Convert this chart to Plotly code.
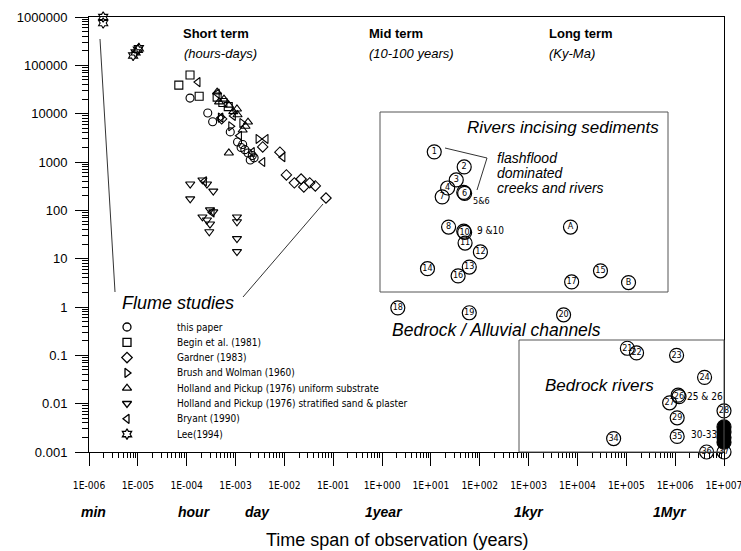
import plotly.graph_objects as go

# ---------------- data (years, rate) ----------------
lee_x = [1.95e-6, 1.95e-6, 8e-6, 9e-6, 1.0e-5, 1.05e-5]
lee_y = [1.0e6, 7.5e5, 1.6e5, 1.85e5, 2.1e5, 2.25e5]

paper_x = [1.17e-4, 2.7e-4, 3.4e-4, 7.8e-4, 1.1e-3, 1.4e-3, 1.55e-3, 1.8e-3, 2.2e-3, 2.4e-3, 2.0e-3, 1.3e-3]
paper_y = [21000, 10300, 6800, 4200, 2600, 2300, 1800, 1540, 1360, 1220, 1100, 2000]

begin_x = [6.9e-5, 1.17e-4, 1.8e-4, 4.2e-4, 7.1e-4, 5.5e-4]
begin_y = [39000, 63000, 23000, 22000, 14000, 17000]

gardner_x = [5.2e-4, 3.6e-3, 8.1e-3, 1.1e-2, 1.6e-2, 2.2e-2, 2.5e-2, 3.3e-2, 4.3e-2, 7.1e-2]
gardner_y = [7800, 2050, 1600, 540, 370, 445, 305, 370, 320, 180]

brush_x = [4.9e-4, 8.0e-4, 1.35e-3, 2.9e-3]
brush_y = [8300, 5500, 6400, 3000]

holland_u_x = [4.2e-4, 4.6e-4, 7.3e-4, 1.07e-3, 1.1e-3, 1.8e-3, 1.4e-3, 1.6e-3, 7.3e-4, 5.8e-4, 9.0e-4]
holland_u_y = [28000, 17500, 15000, 12500, 9500, 6700, 4600, 5500, 1540, 20000, 11000]

holland_s_x = [1.18e-4, 2.1e-4, 2.6e-4, 3.5e-4, 1.18e-4, 3.0e-4, 3.5e-4, 2.1e-4, 2.6e-4, 3.0e-4, 2.9e-4,
               1.07e-3, 1.07e-3, 1.07e-3, 1.07e-3]
holland_s_y = [350, 425, 350, 250, 173, 102, 93, 73, 63, 52, 36, 73, 58, 26, 14]

bryant_x = [1.7e-4, 4.2e-4, 5.0e-4, 9.0e-4, 1.2e-3, 2.2e-3, 3.6e-3, 4.2e-3, 9.3e-3, 2.3e-4, 3.3e-4]
bryant_y = [45000, 26000, 8300, 9000, 3500, 1600, 1000, 3000, 1260, 400, 90]

site_labels = ["1", "2", "3", "4", "5", "6", "7", "8", "9", "10", "11", "12", "13", "14", "15", "16",
               "A", "17", "B", "18", "19", "20", "21", "22", "23", "24", "25", "26", "27", "28", "29",
               "30", "31", "32", "33", "34", "35", "36", "37"]
site_x = [11.7, 48, 33, 22, 47, 49, 17, 23, 47, 49, 50, 103, 61, 8.5, 29600, 36,
          7200, 7600, 111000, 2.1, 61, 5200, 105000, 162000, 1.07e6, 4e6, 1.15e6, 1.2e6, 7.7e5, 1e7, 1.1e6,
          1e7, 1e7, 1e7, 1e7, 55000, 1.1e6, 4.4e6, 1e7]
site_y = [1620, 790, 425, 290, 235, 225, 190, 45, 37, 35, 21, 13.8, 6.7, 6.2, 5.6, 4.4,
          45, 3.3, 3.2, 0.96, 0.76, 0.69, 0.14, 0.112, 0.10, 0.035, 0.0150, 0.0140, 0.0104, 0.0071, 0.0051,
          0.0033, 0.0026, 0.0020, 0.0016, 0.0019, 0.0021, 0.001, 0.001]
# sites drawn as one merged group in the figure (labels 5&6, 9&10, 25&26, 30-33)
merged_hidden = {"5", "9", "25"}
merged_filled = {"30", "31", "32", "33"}

legend_names = ["this paper", "Begin et al. (1981)", "Gardner (1983)", "Brush and Wolman (1960)",
                "Holland and Pickup (1976) uniform substrate",
                "Holland and Pickup (1976) stratified sand & plaster", "Bryant (1990)", "Lee(1994)"]

x_exps = list(range(-6, 8))
y_vals = [1e-3, 1e-2, 1e-1, 1, 10, 100, 1000, 1e4, 1e5, 1e6]
y_text = ["0.001", "0.01", "0.1", "1", "10", "100", "1000", "10000", "100000", "1000000"]

# ---------------- styling ----------------
SANS = "Liberation Sans, Arial, sans-serif"
NARROW = "Liberation Sans Narrow, Arial Narrow, DejaVu Sans Condensed, sans-serif"
L, R, T, B = 89, 724, 17, 452
W, H = R - L, B - T


def PX(px):
    return (px - L) / W


def PY(py):
    return (B - py) / H


fig = go.Figure()

series = [
    (paper_x, paper_y, "circle-open"),
    (begin_x, begin_y, "square-open"),
    (gardner_x, gardner_y, "diamond-open"),
    (brush_x, brush_y, "triangle-right-open"),
    (holland_u_x, holland_u_y, "triangle-up-open"),
    (holland_s_x, holland_s_y, "triangle-down-open"),
    (bryant_x, bryant_y, "triangle-left-open"),
    (lee_x, lee_y, "hexagram-open"),
]
for (xs, ys, sym), name in zip(series, legend_names):
    fig.add_trace(go.Scatter(x=xs, y=ys, mode="markers", name=name, showlegend=False,
                             cliponaxis=False,
                             marker=dict(symbol=sym, size=8, color="black",
                                         line=dict(color="black", width=1.1))))

site_text = ["" if (l in merged_hidden or l in merged_filled) else l for l in site_labels]
site_sym = ["circle" if l in merged_filled else "circle-open" for l in site_labels]
fig.add_trace(go.Scatter(x=site_x, y=site_y, mode="markers+text", text=site_text,
                         textposition="middle center", showlegend=False, cliponaxis=False,
                         textfont=dict(family=NARROW, size=9, color="black"),
                         marker=dict(symbol=site_sym, size=14, color="black",
                                     line=dict(color="black", width=1.2))))

# legend symbols (overlay axes in unit space)
leg_rows = [PY(327 + i * 15.3) for i in range(len(legend_names))]
fig.add_trace(go.Scatter(x=[PX(127)] * len(legend_names), y=leg_rows, mode="markers",
                         xaxis="x2", yaxis="y2", showlegend=False, cliponaxis=False,
                         marker=dict(symbol=[s[2] for s in series], size=8, color="black",
                                     line=dict(color="black", width=1.3))))

ann = []


def text(px, py, s, size, family=SANS, xanchor="left", bold=False, italic=False):
    if bold:
        s = "<b>" + s + "</b>"
    if italic:
        s = "<i>" + s + "</i>"
    ann.append(dict(x=PX(px), y=PY(py), xref="paper", yref="paper", text=s, showarrow=False,
                    xanchor=xanchor, yanchor="middle",
                    font=dict(family=family, size=size, color="black")))


text(181, 33, "Short term", 13, bold=True)
text(182, 53, "(hours-days)", 13, italic=True)
text(367, 33, "Mid term", 13, bold=True)
text(367, 53, "(10-100 years)", 13, italic=True)
text(547, 33, "Long term", 13, bold=True)
text(547, 54, "(Ky-Ma)", 13, italic=True)
text(465, 127, "Rivers incising sediments", 17, italic=True)
text(495, 158, "flashflood", 14, italic=True)
text(495, 173, "dominated", 14, italic=True)
text(495, 188, "creeks and rivers", 14, italic=True)
text(471, 201, "5&6", 9, family=NARROW)
text(475, 230, "9 &10", 10, family=NARROW)
text(390, 330, "Bedrock / Alluvial channels", 17.5, italic=True)
text(543, 385, "Bedrock rivers", 17, italic=True)
text(685, 396, "25 & 26", 10, family=NARROW)
text(689, 434, "30-33", 10, family=NARROW)
text(120, 303, "Flume studies", 18, italic=True)
for i, nm in enumerate(legend_names):
    text(175, 327 + i * 15.3, nm, 10, family=NARROW)
for px, s in [(93, "min"), (194, "hour"), (257, "day"), (384, "1year"), (529, "1kyr"), (670, "1Myr")]:
    text(px, 512, s, 14, xanchor="center", bold=True, italic=True)
text(397, 540, "Time span of observation (years)", 18, xanchor="center")

shapes = []
line_style = dict(color="#333", width=1)
shapes.append(dict(type="line", xref="paper", yref="paper", x0=PX(100), y0=PY(39), x1=PX(115), y1=PY(292),
                   line=line_style))
shapes.append(dict(type="line", xref="paper", yref="paper", x0=PX(323), y0=PY(204), x1=PX(243), y1=PY(297),
                   line=line_style))
shapes.append(dict(type="path", xref="paper", yref="paper",
                   path=f"M {PX(445)} {PY(148)} L {PX(487)} {PY(158)} L {PX(477)} {PY(190)}",
                   line=line_style))
shapes.append(dict(type="rect", xref="paper", yref="paper", x0=PX(380), y0=PY(112), x1=PX(668), y1=PY(292),
                   line=dict(color="#555", width=1)))
shapes.append(dict(type="rect", xref="paper", yref="paper", x0=PX(519), y0=PY(340), x1=PX(724), y1=PY(452),
                   line=dict(color="#555", width=1)))

minor_x = [k * 10.0 ** e for e in range(-6, 7) for k in range(2, 10)]
minor_y = [k * 10.0 ** e for e in range(-3, 6) for k in range(2, 10)]

fig.update_layout(
    width=741, height=551,
    margin=dict(l=L, r=741 - R, t=T, b=551 - B),
    paper_bgcolor="white", plot_bgcolor="white",
    showlegend=False,
    annotations=ann, shapes=shapes,
    xaxis=dict(type="log", range=[-6, 7], showgrid=False, zeroline=False, automargin=False,
               showline=True, mirror=True, linecolor="black", linewidth=1,
               ticks="outside", ticklen=13, tickcolor="black", tickwidth=1,
               tickmode="array", tickvals=[10.0 ** e for e in x_exps],
               ticktext=[f"1E{e:+04d}" for e in x_exps], ticklabelstandoff=11,
               ticklabeloverflow="allow",
               tickfont=dict(family=NARROW, size=10.2, color="black"),
               minor=dict(ticks="outside", ticklen=5, tickcolor="black", tickwidth=1,
                          tickmode="array", tickvals=minor_x, showgrid=False)),
    yaxis=dict(type="log", range=[-3, 6], showgrid=False, zeroline=False, automargin=False,
               showline=True, mirror=True, linecolor="black", linewidth=1,
               ticks="outside", ticklen=13, tickcolor="black", tickwidth=1,
               tickmode="array", tickvals=y_vals, ticktext=y_text, ticklabelstandoff=5,
               ticklabeloverflow="allow",
               tickfont=dict(family=SANS, size=13, color="black"),
               minor=dict(ticks="outside", ticklen=6, tickcolor="black", tickwidth=1,
                          tickmode="array", tickvals=minor_y, showgrid=False)),
    xaxis2=dict(overlaying="x", range=[0, 1], visible=False, anchor="y2"),
    yaxis2=dict(overlaying="y", range=[0, 1], visible=False, anchor="x2"),
)

fig.write_html("out.html", post_script="document.body.style.margin='0px';",
               config={"displayModeBar": False})
